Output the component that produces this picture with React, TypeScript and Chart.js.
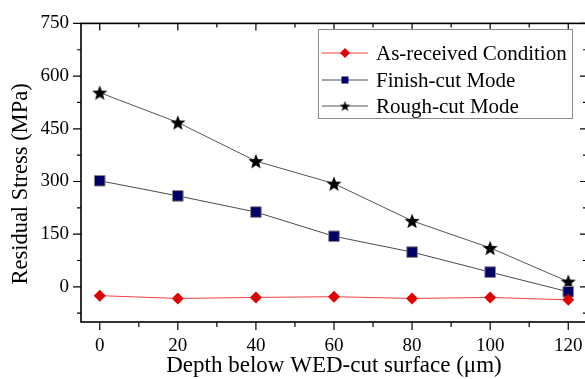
import React, { useEffect, useRef } from "react";
import { Chart, registerables } from "chart.js";

Chart.register(...registerables);

const depths = [0, 20, 40, 60, 80, 100, 120];
const asReceived = [-25, -33, -30, -28, -33, -30, -37];
const finishCut = [302, 259, 213, 144, 99, 42, -14];
const finishErr = [5, 12, 8, 10, 6, 9, 8];
const roughCut = [553, 468, 358, 294, 188, 111, 15];
const seriesLabels = ["As-received Condition", "Finish-cut Mode", "Rough-cut Mode"];
const xTicks = [0, 20, 40, 60, 80, 100, 120];
const xMinorTicks = [10, 30, 50, 70, 90, 110];
const yTicks = [0, 150, 300, 450, 600, 750];
const yMinorTicks = [-75, 75, 225, 375, 525, 675];
const xTitle = "Depth below WED-cut surface (\u03bcm)";
const yTitle = "Residual Stress (MPa)";

const FONT = "'Liberation Serif', 'Times New Roman', serif";

function makeStar(size: number, color: string) {
  const c = document.createElement("canvas");
  c.width = size;
  c.height = size;
  const g = c.getContext("2d")!;
  const cx = size / 2, cy = size / 2;
  const R = size / 2, r = R * 0.42;
  g.beginPath();
  for (let i = 0; i < 10; i++) {
    const rad = i % 2 === 0 ? R : r;
    const a = -Math.PI / 2 + (i * Math.PI) / 5;
    const px = cx + rad * Math.cos(a);
    const py = cy + rad * Math.sin(a) + size * 0.05;
    if (i === 0) g.moveTo(px, py);
    else g.lineTo(px, py);
  }
  g.closePath();
  g.fillStyle = color;
  g.fill();
  return c;
}

export default function App() {
  const ref = useRef<HTMLCanvasElement>(null);
  useEffect(() => {
    document.body.style.margin = "0";
    const star = makeStar(16, "#000");
    const starSmall = makeStar(11, "#000");

    const framePlugin = {
      id: "frame",
      beforeDatasetsDraw(chart: any) {
        const { ctx, scales } = chart;
        const xs = scales.x, ys = scales.y;
        ctx.save();
        ctx.strokeStyle = "#9a9a9a";
        ctx.lineWidth = 1;
        finishCut.forEach((v, i) => {
          const px = xs.getPixelForValue(depths[i]);
          const t = ys.getPixelForValue(v + finishErr[i]);
          const b = ys.getPixelForValue(v - finishErr[i]);
          ctx.beginPath();
          ctx.moveTo(px, t); ctx.lineTo(px, b);
          ctx.moveTo(px - 4, t); ctx.lineTo(px + 4, t);
          ctx.moveTo(px - 4, b); ctx.lineTo(px + 4, b);
          ctx.stroke();
        });
        ctx.restore();
      },
      afterDraw(chart: any) {
        const { ctx, chartArea: a, scales } = chart;
        const xs = scales.x, ys = scales.y;
        ctx.save();
        ctx.strokeStyle = "#000";
        ctx.lineWidth = 1.6;
        ctx.strokeRect(a.left, a.top, a.right - a.left, a.bottom - a.top);
        ctx.lineWidth = 1.2;
        ctx.beginPath();
        const tick = (x1: number, y1: number, x2: number, y2: number) => {
          ctx.moveTo(x1, y1); ctx.lineTo(x2, y2);
        };
        xTicks.forEach((v) => {
          const px = xs.getPixelForValue(v);
          tick(px, a.bottom, px, a.bottom + 8);
          tick(px, a.top, px, a.top + 7);
        });
        xMinorTicks.forEach((v) => {
          const px = xs.getPixelForValue(v);
          tick(px, a.bottom, px, a.bottom + 5);
          tick(px, a.top, px, a.top + 4);
        });
        yTicks.forEach((v) => {
          const py = ys.getPixelForValue(v);
          tick(a.left, py, a.left - 8, py);
          tick(a.right, py, a.right - 7, py);
        });
        yMinorTicks.forEach((v) => {
          const py = ys.getPixelForValue(v);
          tick(a.left, py, a.left - 4, py);
          tick(a.right, py, a.right - 4, py);
        });
        ctx.stroke();

        // y title
        ctx.save();
        ctx.translate(21, 184);
        ctx.rotate(-Math.PI / 2);
        ctx.fillStyle = "#000";
        ctx.font = `22.5px ${FONT}`;
        ctx.textAlign = "center";
        ctx.textBaseline = "middle";
        ctx.fillText(yTitle, 0, 0);
        ctx.restore();

        // legend
        const lx = 318, ly = 29, lw = 254, lh = 89;
        ctx.fillStyle = "#fff";
        ctx.fillRect(lx, ly, lw, lh);
        ctx.strokeStyle = "#8c8c8c";
        ctx.lineWidth = 1;
        ctx.strokeRect(lx + 0.5, ly + 0.5, lw, lh);
        const rows = [53, 80, 106];
        chart.data.datasets.forEach((ds: any, i: number) => {
          const y = rows[i];
          ctx.strokeStyle = ds.borderColor;
          ctx.lineWidth = 1;
          ctx.beginPath();
          ctx.moveTo(322, y); ctx.lineTo(368, y);
          ctx.stroke();
          const mx = 345;
          if (i === 0) {
            ctx.fillStyle = "#e00000";
            ctx.beginPath();
            ctx.moveTo(mx, y - 5); ctx.lineTo(mx + 5, y); ctx.lineTo(mx, y + 5); ctx.lineTo(mx - 5, y);
            ctx.closePath(); ctx.fill();
          } else if (i === 1) {
            ctx.fillStyle = "#000066";
            ctx.fillRect(mx - 3.5, y - 3.5, 7, 7);
          } else {
            ctx.drawImage(starSmall, mx - 5.5, y - 5.5);
          }
          ctx.fillStyle = "#000";
          ctx.font = `21px ${FONT}`;
          ctx.textBaseline = "middle";
          ctx.textAlign = "left";
          ctx.fillText(ds.label, 376, y + 1);
        });
        ctx.restore();
      },
    };

    const chart = new Chart(ref.current!, {
      type: "line",
      data: {
        datasets: [
          {
            label: seriesLabels[0],
            data: depths.map((d, i) => ({ x: d, y: asReceived[i] })),
            borderColor: "#f04040",
            borderWidth: 1,
            pointStyle: "rectRot",
            pointRadius: 6,
            pointBackgroundColor: "#e00000",
            pointBorderColor: "#e00000",
            pointBorderWidth: 0,
            order: 1,
          },
          {
            label: seriesLabels[1],
            data: depths.map((d, i) => ({ x: d, y: finishCut[i] })),
            borderColor: "#4a4a5a",
            borderWidth: 1,
            pointStyle: "rect",
            pointRadius: 7.5,
            pointBackgroundColor: "#000066",
            pointBorderColor: "#8a8a8a",
            pointBorderWidth: 1,
            order: 2,
          },
          {
            label: seriesLabels[2],
            data: depths.map((d, i) => ({ x: d, y: roughCut[i] })),
            borderColor: "#555555",
            borderWidth: 1,
            pointStyle: star as any,
            pointRadius: 8,
            order: 3,
          },
        ],
      },
      options: {
        responsive: false,
        animation: false,
        layout: { padding: { top: 20, right: 13, left: 0, bottom: 0 } },
        plugins: { legend: { display: false }, tooltip: { enabled: false } },
        scales: {
          x: {
            type: "linear",
            min: -4.8,
            max: 124.8,
            afterBuildTicks: (s: any) => {
              s.ticks = xTicks.map((v) => ({ value: v }));
            },
            afterFit: (s: any) => {
              s.height = 57;
            },
            grid: { display: false, drawTicks: false },
            border: { display: false },
            ticks: {
              font: { family: FONT, size: 19 },
              color: "#000",
              padding: 13,
              maxRotation: 0,
            },
            title: {
              display: true,
              text: xTitle,
              font: { family: FONT, size: 23, lineHeight: 1.2 },
              color: "#000",
              padding: { top: 0, bottom: -1 },
            },
          },
          y: {
            type: "linear",
            min: -100,
            max: 750,
            afterBuildTicks: (s: any) => {
              s.ticks = yTicks.map((v) => ({ value: v }));
            },
            afterFit: (s: any) => {
              s.width = 81;
            },
            grid: { display: false, drawTicks: false },
            border: { display: false },
            ticks: {
              font: { family: FONT, size: 19 },
              color: "#000",
              padding: 12,
            },
            title: { display: false },
          },
        },
      },
      plugins: [framePlugin],
    });
    return () => chart.destroy();
  }, []);

  return (
    <div style={{ position: "absolute", left: 0, top: 0, width: 585, height: 379, overflow: "hidden", background: "#fff" }}>
      <canvas ref={ref} width={600} height={379} style={{ display: "block" }} />
    </div>
  );
}
